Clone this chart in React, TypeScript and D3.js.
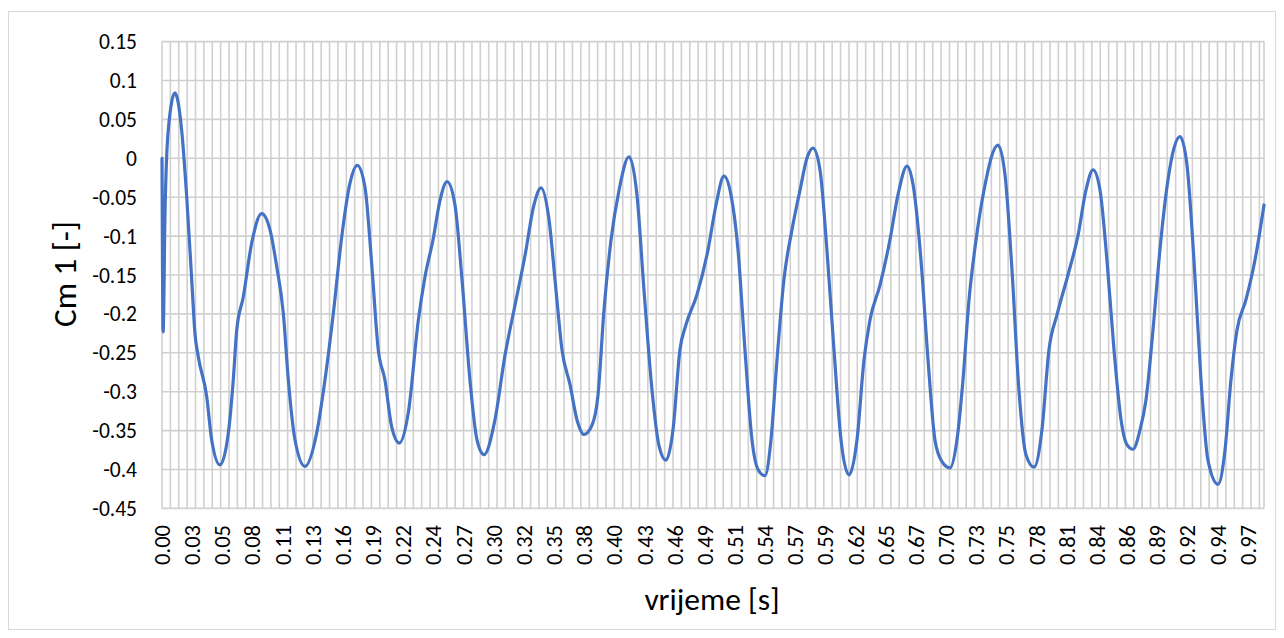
import React from "react";
import * as d3 from "d3";

// time [s] of read-off key points
const times = [
  0, 0.001, 0.0027, 0.0056, 0.0116, 0.0176, 0.0221, 0.0266, 0.0295, 0.0325, 0.04, 0.0445, 0.0519,
  0.0594, 0.0638, 0.0669, 0.0728, 0.0803, 0.0893, 0.0967, 0.1027, 0.1086, 0.1131, 0.1191, 0.128,
  0.1385, 0.1459, 0.1534, 0.1609, 0.1683, 0.1748, 0.1817, 0.1877, 0.1936, 0.1996, 0.2056, 0.2124,
  0.2205, 0.2295, 0.2355, 0.2426, 0.2489, 0.2552, 0.2623, 0.2686, 0.2757, 0.282, 0.2883,
  0.2981, 0.3071, 0.316, 0.325, 0.333, 0.3393, 0.3465, 0.3527, 0.3581, 0.3653, 0.3715, 0.3778,
  0.385, 0.3903, 0.3957, 0.402, 0.4092, 0.4181, 0.4252, 0.4315, 0.4387, 0.4449, 0.4512,
  0.4575, 0.4637, 0.4691, 0.479, 0.4888, 0.496, 0.5031, 0.5094, 0.5157, 0.5219, 0.5282, 0.5336, 0.5398,
  0.5452, 0.5506, 0.5568, 0.564, 0.5712, 0.5774, 0.5828, 0.5891, 0.5953, 0.6016, 0.6079, 0.615,
  0.6222, 0.6285, 0.6338, 0.6428, 0.6517, 0.6589, 0.667, 0.6732, 0.6795, 0.6858, 0.692, 0.6983, 0.7054,
  0.7117, 0.7171, 0.7225, 0.7288, 0.7359, 0.7484, 0.7547, 0.761, 0.7672, 0.7735, 0.7807,
  0.7878, 0.7941, 0.8013, 0.8111, 0.8201, 0.8272, 0.8335, 0.8398, 0.846, 0.8523, 0.8586, 0.8639, 0.8693,
  0.8756, 0.8809, 0.8872, 0.8934, 0.9006, 0.906, 0.9114, 0.9176, 0.9239, 0.9302, 0.9364, 0.9454,
  0.9517, 0.957, 0.9624, 0.9704, 0.9785, 0.9866,
];

// Cm 1 [-] values at those times
const cm1 = [
  0, -0.223, -0.07, 0.036, 0.084, 0.036, -0.049, -0.156, -0.225, -0.255, -0.306, -0.362, -0.394,
  -0.353, -0.285, -0.221, -0.178, -0.109, -0.071, -0.092, -0.139, -0.199, -0.285, -0.362, -0.396,
  -0.353, -0.285, -0.199, -0.101, -0.032, -0.009, -0.037, -0.135, -0.246, -0.285, -0.345, -0.366,
  -0.327, -0.208, -0.152, -0.105, -0.054, -0.03, -0.06, -0.156, -0.285, -0.362, -0.381,
  -0.336, -0.253, -0.189, -0.125, -0.06, -0.038, -0.079, -0.169, -0.246, -0.291, -0.336, -0.355,
  -0.343, -0.305, -0.195, -0.105, -0.041, 0.002, -0.047, -0.169, -0.298, -0.369, -0.388,
  -0.349, -0.246, -0.214, -0.175, -0.118, -0.06, -0.023, -0.047, -0.118, -0.246, -0.362, -0.4, -0.408,
  -0.362, -0.259, -0.156, -0.092, -0.041, 0.0, 0.013, -0.015, -0.118, -0.246, -0.362, -0.407,
  -0.362, -0.259, -0.208, -0.163, -0.105, -0.047, -0.01, -0.041, -0.131, -0.259, -0.362, -0.39, -0.398,
  -0.362, -0.285, -0.182, -0.105, -0.041, 0.017, -0.021, -0.144, -0.298, -0.381, -0.397,
  -0.349, -0.246, -0.201, -0.15, -0.099, -0.041, -0.015, -0.041, -0.131, -0.246, -0.336, -0.368, -0.374,
  -0.349, -0.311, -0.221, -0.118, -0.028, 0.013, 0.028, -0.008, -0.131, -0.285, -0.388, -0.419,
  -0.375, -0.285, -0.221, -0.182, -0.131, -0.06,
];

const yTicks = [0.15, 0.1, 0.05, 0, -0.05, -0.1, -0.15, -0.2, -0.25, -0.3, -0.35, -0.4, -0.45];
const yTickLabels = ["0.15", "0.1", "0.05", "0", "-0.05", "-0.1", "-0.15", "-0.2", "-0.25", "-0.3", "-0.35", "-0.4", "-0.45"];
const xTickLabels = [
  "0.00", "0.03", "0.05", "0.08", "0.11", "0.13", "0.16", "0.19", "0.22", "0.24", "0.27", "0.30",
  "0.32", "0.35", "0.38", "0.40", "0.43", "0.46", "0.49", "0.51", "0.54", "0.57", "0.59", "0.62",
  "0.65", "0.67", "0.70", "0.73", "0.75", "0.78", "0.81", "0.84", "0.86", "0.89", "0.92", "0.94", "0.97",
];
const xTickStep = 0.027;
const tMax = 0.9866;
const gridStep = 0.0075;

const FONT = "Calibri, Carlito, Lato, sans-serif";

export default function App() {
  const W = 1284, H = 638;
  const left = 162, right = 1264, top = 41.6, bottom = 508.4;
  const x = d3.scaleLinear().domain([0, tMax]).range([left, right]);
  const y = d3.scaleLinear().domain([-0.45, 0.15]).range([bottom, top]);
  const data = times.map((t, i) => [t, cm1[i]] as [number, number]);
  const line = d3.line<[number, number]>().x(d => x(d[0])).y(d => y(d[1])).curve(d3.curveMonotoneX);
  const vGrid = d3.range(0, tMax + 1e-9, gridStep);
  const grid = "#d0d0d0";
  return (
    <svg width={W} height={H} style={{ position: "absolute", left: 0, top: 0, background: "#fff" }}>
      <rect x={8.5} y={11.5} width={1267} height={618} fill="#fff" stroke="#d9d9d9" strokeWidth={1} />
      {vGrid.map((t, i) => (
        <line key={"v" + i} x1={x(t)} x2={x(t)} y1={top} y2={bottom} stroke={grid} strokeWidth={1.6} />
      ))}
      <line x1={right} x2={right} y1={top} y2={bottom} stroke={grid} strokeWidth={1.6} />
      {yTicks.map((v, i) => (
        <line key={"h" + i} x1={left} x2={right} y1={y(v)} y2={y(v)} stroke={grid} strokeWidth={1.6} />
      ))}
      {yTicks.map((v, i) => (
        <text key={"yl" + i} x={137} y={y(v)} dy="0.35em" textAnchor="end" fontFamily={FONT} fontSize={21.5} fill="#000">
          {yTickLabels[i]}
        </text>
      ))}
      {xTickLabels.map((s, i) => {
        const px = x(i * xTickStep);
        return (
          <text key={"xl" + i} transform={`translate(${px + 8},525) rotate(-90)`} textAnchor="end" fontFamily={FONT} fontSize={22.5} fill="#000">
            {s}
          </text>
        );
      })}
      <path d={line(data) || ""} fill="none" stroke="#4472C4" strokeWidth={3.2} strokeLinejoin="round" strokeLinecap="round" />
      <text transform="translate(76,274) rotate(-90)" textAnchor="middle" fontFamily={FONT} fontSize={33} fill="#000">
        Cm 1 [-]
      </text>
      <text x={712} y={610} textAnchor="middle" fontFamily={FONT} fontSize={31.5} fill="#000">
        vrijeme [s]
      </text>
    </svg>
  );
}
